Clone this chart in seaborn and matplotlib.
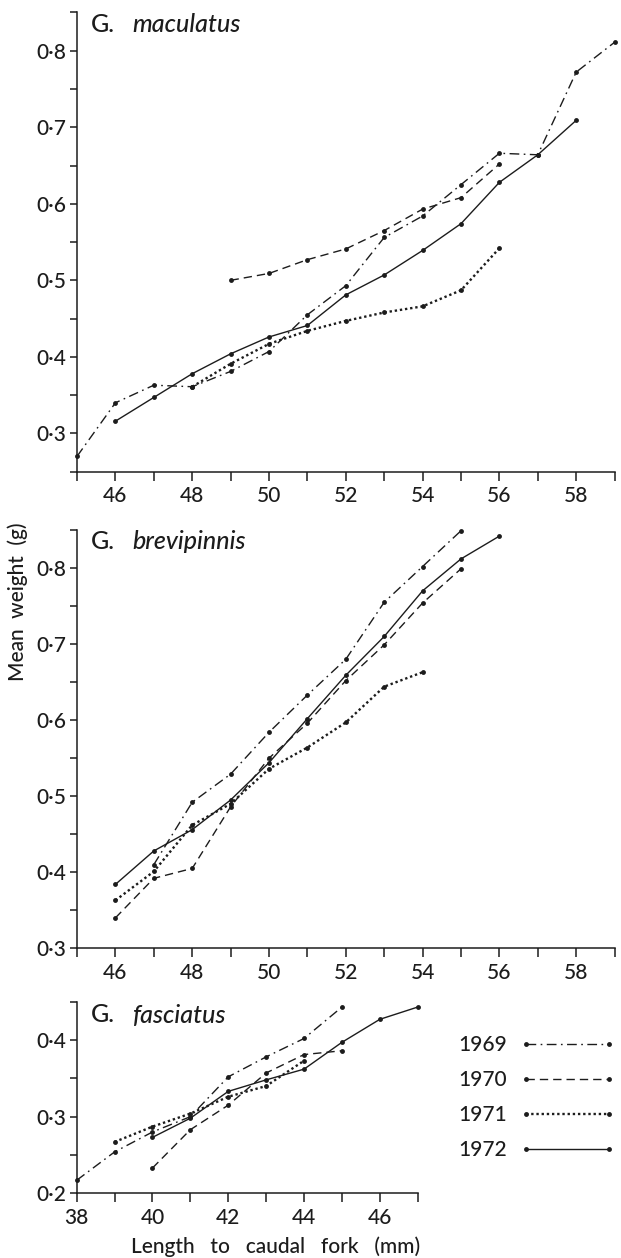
import matplotlib
matplotlib.use("Agg")
import numpy as np
import pandas as pd
import matplotlib.pyplot as plt
from matplotlib.ticker import MultipleLocator, FuncFormatter
import seaborn as sns

# ---------------- data ----------------
years = ["1969", "1970", "1971", "1972"]

# G. maculatus
mac_1969_x = [45, 46, 47, 48, 49, 50, 51, 52, 53, 54, 55, 56, 57, 58, 59]
mac_1969_y = [0.270, 0.340, 0.363, 0.361, 0.381, 0.407, 0.455, 0.493, 0.556, 0.584, 0.625, 0.666, 0.664, 0.772, 0.811]
mac_1970_x = [49, 50, 51, 52, 53, 54, 55, 56]
mac_1970_y = [0.500, 0.509, 0.527, 0.541, 0.565, 0.593, 0.608, 0.652]
mac_1971_x = [48, 49, 50, 51, 52, 53, 54, 55, 56]
mac_1971_y = [0.361, 0.391, 0.417, 0.434, 0.447, 0.458, 0.466, 0.487, 0.542]
mac_1972_x = [46, 47, 48, 49, 50, 51, 52, 53, 54, 55, 56, 57, 58]
mac_1972_y = [0.316, 0.347, 0.378, 0.404, 0.426, 0.441, 0.481, 0.507, 0.539, 0.574, 0.628, 0.664, 0.709]

# G. brevipinnis
bre_1969_x = [47, 48, 49, 50, 51, 52, 53, 54, 55]
bre_1969_y = [0.410, 0.492, 0.529, 0.584, 0.633, 0.680, 0.755, 0.802, 0.849]
bre_1970_x = [46, 47, 48, 49, 50, 51, 52, 53, 54, 55]
bre_1970_y = [0.340, 0.392, 0.405, 0.486, 0.550, 0.596, 0.652, 0.699, 0.754, 0.799]
bre_1971_x = [46, 47, 48, 49, 50, 51, 52, 53, 54]
bre_1971_y = [0.363, 0.401, 0.462, 0.490, 0.536, 0.564, 0.597, 0.644, 0.663]
bre_1972_x = [46, 47, 48, 49, 50, 51, 52, 53, 54, 55, 56]
bre_1972_y = [0.384, 0.428, 0.456, 0.495, 0.544, 0.602, 0.659, 0.710, 0.770, 0.812, 0.842]

# G. fasciatus
fas_1969_x = [38, 39, 40, 41, 42, 43, 44, 45]
fas_1969_y = [0.217, 0.254, 0.280, 0.300, 0.352, 0.378, 0.402, 0.443]
fas_1970_x = [40, 41, 42, 43, 44, 45]
fas_1970_y = [0.233, 0.283, 0.315, 0.357, 0.381, 0.386]
fas_1971_x = [39, 40, 41, 42, 43, 44]
fas_1971_y = [0.267, 0.287, 0.304, 0.326, 0.340, 0.373]
fas_1972_x = [40, 41, 42, 43, 44, 45, 46, 47]
fas_1972_y = [0.273, 0.298, 0.333, 0.348, 0.362, 0.397, 0.427, 0.443]

species = ["maculatus", "brevipinnis", "fasciatus"]


def frame(series):
    rows = []
    for yr, (xs, ys) in zip(years, series):
        for xv, yv in zip(xs, ys):
            rows.append({"length": xv, "weight": yv, "year": yr})
    return pd.DataFrame(rows)


df_mac = frame([(mac_1969_x, mac_1969_y), (mac_1970_x, mac_1970_y),
                (mac_1971_x, mac_1971_y), (mac_1972_x, mac_1972_y)])
df_bre = frame([(bre_1969_x, bre_1969_y), (bre_1970_x, bre_1970_y),
                (bre_1971_x, bre_1971_y), (bre_1972_x, bre_1972_y)])
df_fas = frame([(fas_1969_x, fas_1969_y), (fas_1970_x, fas_1970_y),
                (fas_1971_x, fas_1971_y), (fas_1972_x, fas_1972_y)])

# ---------------- style ----------------
sns.set_style("ticks")
plt.rcParams["font.family"] = ["Lato", "DejaVu Sans"]
plt.rcParams["font.weight"] = "medium"
INK = "#1c1c1c"
plt.rcParams["axes.edgecolor"] = INK
plt.rcParams["text.color"] = INK
plt.rcParams["xtick.color"] = INK
plt.rcParams["ytick.color"] = INK

line_styles = {
    "1969": dict(linestyle=(0, (7, 3.2, 1.2, 3.2)), linewidth=1.0),
    "1970": dict(linestyle=(0, (6, 3.6)), linewidth=1.0),
    "1971": dict(linestyle=(0, (1, 1.2)), linewidth=1.7),
    "1972": dict(linestyle="-", linewidth=1.0),
}

W, H = 621, 1258
fig = plt.figure(figsize=(W / 100, H / 100), dpi=100)


def px(x, y):
    return x / W, 1 - y / H


def rect(x0, y_top, x1, y_bot):
    return [x0 / W, 1 - y_bot / H, (x1 - x0) / W, (y_bot - y_top) / H]


ax1 = fig.add_axes(rect(77, 12.4, 614.6, 471.7))
ax2 = fig.add_axes(rect(77, 530, 614.6, 948.3))
ax3 = fig.add_axes(rect(76.7, 1001.7, 417.7, 1193.3))

fmt = FuncFormatter(lambda v, p: f"{v:.1f}".replace(".", "\u00b7"))
TICK_FS = 15


def draw(ax, df):
    for yr in years:
        sub = df[df["year"] == yr]
        sns.lineplot(data=sub, x="length", y="weight", ax=ax, color=INK,
                     marker="o", markersize=3.5, markeredgewidth=0,
                     estimator=None, sort=False, errorbar=None, legend=False,
                     clip_on=False, **line_styles[yr])
    ax.set_xlabel("")
    ax.set_ylabel("")
    sns.despine(ax=ax)
    for s in ("left", "bottom"):
        ax.spines[s].set_linewidth(1.1)
    ax.xaxis.set_major_locator(MultipleLocator(2))
    ax.xaxis.set_minor_locator(MultipleLocator(1))
    ax.yaxis.set_major_locator(MultipleLocator(0.1))
    ax.yaxis.set_minor_locator(MultipleLocator(0.05))
    ax.yaxis.set_major_formatter(fmt)
    ax.tick_params(axis="y", which="both", direction="out", length=5, width=1.1,
                   labelsize=TICK_FS, pad=2.5)
    ax.tick_params(axis="x", which="both", direction="out", length=6.5, width=1.1,
                   labelsize=TICK_FS, pad=4)


draw(ax1, df_mac)
ax1.set_xlim(45, 59)
ax1.set_ylim(0.25, 0.85)

draw(ax2, df_bre)
ax2.set_xlim(45, 59)
ax2.set_ylim(0.3, 0.85)

draw(ax3, df_fas)
ax3.set_xlim(38, 47)
ax3.set_ylim(0.2, 0.45)

# panel titles
for (yc, sp) in zip([25, 541.7, 1015], species):
    fig.text(*px(91, yc), "G.", fontsize=18, va="center", ha="left")
    fig.text(*px(132, yc), sp, fontsize=18, style="italic", va="center", ha="left")

fig.text(*px(18, 602), "Mean  weight  (g)", rotation=90, va="center", ha="center",
         fontsize=15)
fig.text(*px(276, 1247), "Length   to   caudal   fork   (mm)", ha="center", va="center",
         fontsize=15)

fig.legend(handles=ax3.get_lines()[:4], labels=years, loc="center",
           bbox_to_anchor=px(537, 1097.5), frameon=False, markerfirst=False,
           numpoints=2, handlelength=4.6, handletextpad=0.6, labelspacing=0.72,
           fontsize=15)

fig.savefig("out.png", dpi=100)
